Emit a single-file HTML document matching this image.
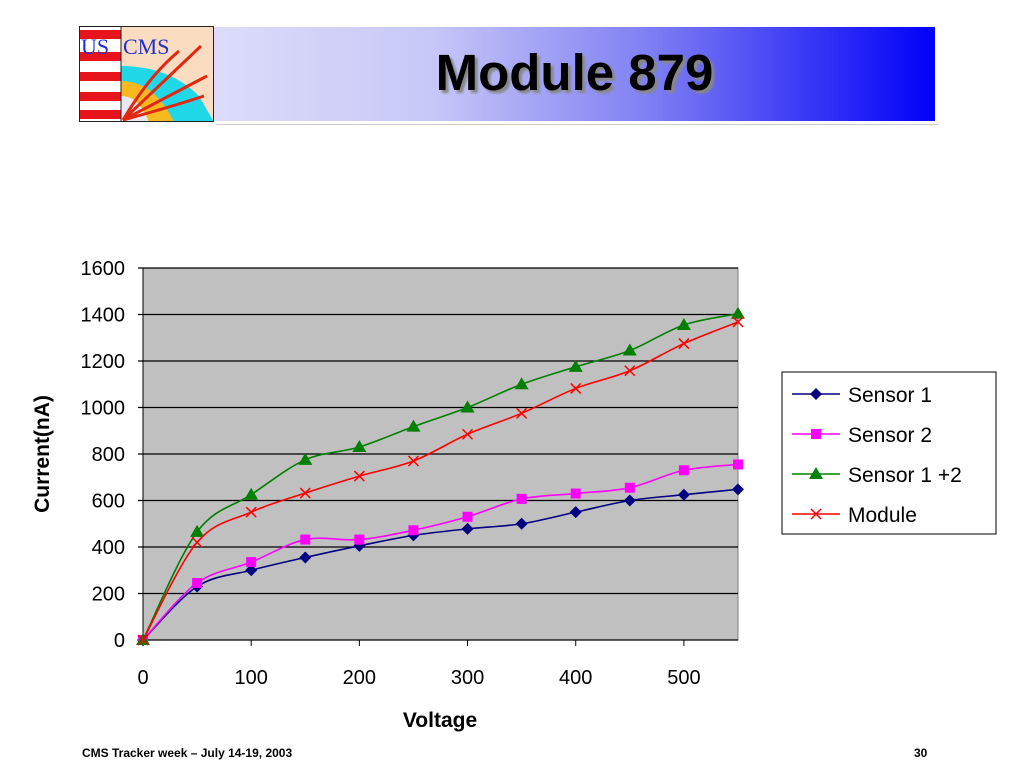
<!DOCTYPE html>
<html><head><meta charset="utf-8"><style>
body{margin:0;width:1024px;height:768px;background:#fff;position:relative;overflow:hidden;font-family:"Liberation Sans",sans-serif}
.abs{position:absolute}
</style></head><body>
<div class="abs" style="left:214px;top:27px;width:721px;height:94px;background:linear-gradient(to right,#dcdcfa 0%,#c8c8f8 30%,#8080f4 60%,#0000f8 100%)"></div>
<div class="abs" style="left:216px;top:124px;width:722px;height:1px;background:#ccc"></div>
<div class="abs" style="left:214px;top:43px;width:721px;text-align:center;font-size:51px;font-weight:bold;color:#000;text-shadow:3px 3px 2px #888">Module 879</div>
<svg class="abs" style="left:79px;top:26px" width="135" height="96" viewBox="0 0 135 96">
<rect x="0" y="0" width="135" height="96" fill="#fadcc0"/>
<rect x="0" y="0" width="42" height="96" fill="#fff"/>
<g fill="#e8141c"><rect x="0" y="4" width="42" height="9"/><rect x="0" y="26" width="42" height="9"/><rect x="0" y="46" width="42" height="9"/><rect x="0" y="66" width="42" height="9"/><rect x="0" y="84" width="42" height="9"/></g>
<path d="M42 96 L42 40 Q90 40 120 70 L135 96 Z" fill="#20d8e8"/>
<path d="M42 96 L42 55 Q75 55 95 96 Z" fill="#f8b820"/>
<path d="M42 96 L42 70 Q60 70 70 96 Z" fill="#e8e8f0"/>
<g stroke="#e02810" stroke-width="3" fill="none"><path d="M44 94 Q80 60 122 20"/><path d="M44 94 Q90 70 128 50"/><path d="M44 94 Q95 80 125 70"/><path d="M44 94 Q70 50 100 25"/></g>
<text x="2" y="28" font-family="Liberation Serif" font-size="22" fill="#2030d0">US</text>
<text x="44" y="28" font-family="Liberation Serif" font-size="22" fill="#2030d0">CMS</text>
<rect x="0.5" y="0.5" width="134" height="95" fill="none" stroke="#222"/>
<line x1="42" y1="0" x2="42" y2="96" stroke="#222"/>
</svg>
<svg class="abs" style="left:0;top:0" width="1024" height="768" id="chart"></svg>
<div class="abs" style="left:82px;top:746px;font-size:12px;font-weight:bold">CMS Tracker week – July 14-19, 2003</div>
<div class="abs" style="left:914px;top:746px;font-size:12px;font-weight:bold">30</div>
<script>
const voltages=[0,50,100,150,200,250,300,350,400,450,500,550];
const sensor1=[0,230,300,355,405,450,478,500,550,600,625,648];
const sensor2=[0,245,335,432,432,472,530,607,630,655,730,755];
const sensorSum=[0,465,625,775,830,918,1000,1100,1175,1245,1355,1403];
const moduleI=[0,420,550,632,705,770,885,975,1082,1158,1275,1368];
const yTicks=[0,200,400,600,800,1000,1200,1400,1600];
const xTicks=[0,100,200,300,400,500];
const seriesNames=["Sensor 1","Sensor 2","Sensor 1 +2","Module"];
const NS="http://www.w3.org/2000/svg";
const svg=document.getElementById('chart');
const X0=143,X1=738,Y0=640,Y1=268;
const xs=v=>X0+(v/550)*(X1-X0);
const ys=v=>Y0-(v/1600)*(Y0-Y1);
function mk(t,a,p){const e=document.createElementNS(NS,t);for(const k in a)e.setAttribute(k,a[k]);(p||svg).appendChild(e);return e;}
let e=mk('rect',{x:X0,y:Y1,width:X1-X0,height:Y0-Y1,fill:'#c0c0c0',stroke:'#808080'});


yTicks.forEach(t=>{
 const g=mk('line',{x1:X0-5,x2:X1,y1:ys(t),y2:ys(t),stroke:'#000','stroke-width':1.3});
 
 
 const l=mk('text',{x:X0-18,y:ys(t)+7,'text-anchor':'end','font-size':20});
 l.textContent=t;
 
 
});
mk('line',{x1:X0,x2:X0,y1:Y1,y2:Y0+5,stroke:'#000'});
xTicks.forEach(t=>{
 mk('line',{x1:xs(t),x2:xs(t),y1:Y0,y2:Y0+6,stroke:'#000'});
 const l=mk('text',{x:xs(t),y:Y0+44,'text-anchor':'middle','font-size':20});
 l.textContent=t;
 
 
});
let t=mk('text',{x:440,y:727,'text-anchor':'middle','font-size':21,'font-weight':'bold'});t.textContent='Voltage';


t=mk('text',{x:0,y:0,'text-anchor':'middle','font-size':21,'font-weight':'bold',transform:'translate(49,454) rotate(-90)'});t.textContent='Current(nA)';


function smooth(pts){let d='M'+pts[0][0]+' '+pts[0][1];for(let i=0;i<pts.length-1;i++){const p0=pts[Math.max(i-1,0)],p1=pts[i],p2=pts[i+1],p3=pts[Math.min(i+2,pts.length-1)];const c1=[p1[0]+(p2[0]-p0[0])/6,p1[1]+(p2[1]-p0[1])/6],c2=[p2[0]-(p3[0]-p1[0])/6,p2[1]-(p3[1]-p1[1])/6];d+=` C${c1[0]} ${c1[1]} ${c2[0]} ${c2[1]} ${p2[0]} ${p2[1]}`;}return d;}
function marker(type,x,y,c,p){
 if(type==0)return mk('path',{d:`M${x} ${y-6}L${x+6} ${y}L${x} ${y+6}L${x-6} ${y}Z`,fill:c},p);
 if(type==1)return mk('rect',{x:x-5,y:y-5,width:10,height:10,fill:c},p);
 if(type==2)return mk('path',{d:`M${x} ${y-7}L${x+7} ${y+5}L${x-7} ${y+5}Z`,fill:c},p);
 return mk('path',{d:`M${x-5} ${y-5}L${x+5} ${y+5}M${x+5} ${y-5}L${x-5} ${y+5}`,stroke:c,'stroke-width':1.5},p);
}
const all=[sensor1,sensor2,sensorSum,moduleI],cols=['#000080','#ff00ff','#008000','#ff0000'],keys=['sensor-1','sensor-2','sensor-sum','module'];
all.forEach((s,k)=>{
 const g=mk('g',{});
 
 
 const pts=voltages.map((v,i)=>[xs(v),ys(s[i])]);
 mk('path',{d:smooth(pts),fill:'none',stroke:cols[k],'stroke-width':1.6},g);
 pts.forEach(p=>{const m=marker(k,p[0],p[1],cols[k],g);
  
  });
});
const lg=mk('g',{});


mk('rect',{x:782,y:372,width:214,height:162,fill:'#fff',stroke:'#000'},lg);
seriesNames.forEach((n,k)=>{
 const y=394+k*40;
 const it=mk('g',{},lg);
 
 
 mk('line',{x1:792,x2:840,y1:y,y2:y,stroke:cols[k],'stroke-width':1.6},it);
 marker(k,816,y,cols[k],it);
 const tx=mk('text',{x:848,y:y+8,'font-size':21},it);tx.textContent=n;
});
</script>
</body></html>
